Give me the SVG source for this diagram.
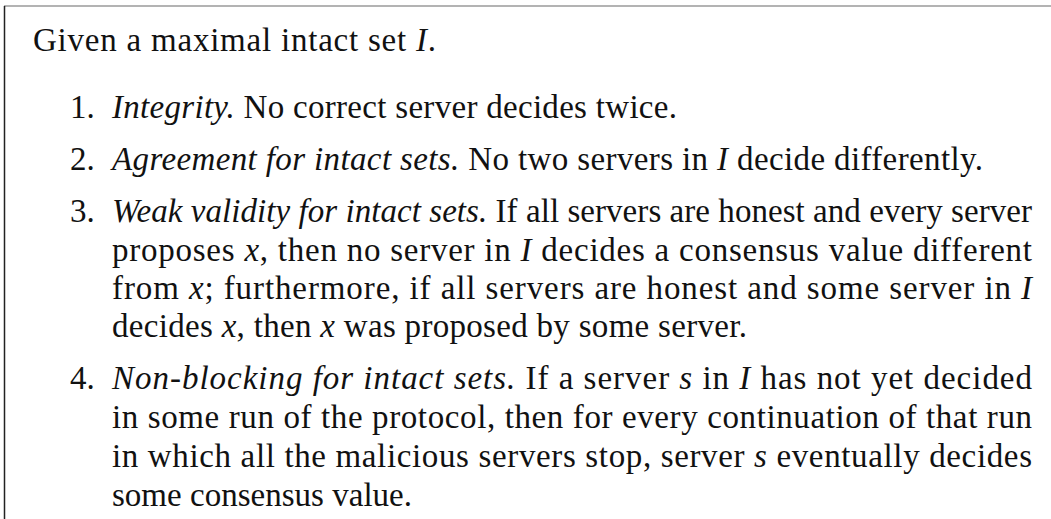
<svg xmlns="http://www.w3.org/2000/svg" width="1051" height="519" viewBox="0 0 1051 519">
<style>
text{font-family:"Liberation Serif","Times New Roman",serif;font-size:33px;fill:#111}
.i{font-style:italic}
</style>
<rect x="0" y="0" width="1051" height="519" fill="#fff"/>
<g id="frame">
<line x1="4" y1="6" x2="1051" y2="6" stroke="#9a9a9a" stroke-width="1.5"/>
<line x1="4.5" y1="6" x2="4.5" y2="519" stroke="#222" stroke-width="1.5"/>
</g>
<g id="intro">
<text x="33" y="51" textLength="403" lengthAdjust="spacing">Given a maximal intact set <tspan class="i">I</tspan>.</text>
</g>
<g id="item1">
<text x="70" y="118">1.</text>
<text x="112" y="118" textLength="565" lengthAdjust="spacing"><tspan class="i">Integrity.</tspan> No correct server decides twice.</text>
</g>
<g id="item2">
<text x="70" y="170">2.</text>
<text x="112" y="170" textLength="871" lengthAdjust="spacing"><tspan class="i">Agreement for intact sets.</tspan> No two servers in <tspan class="i">I</tspan> decide differently.</text>
</g>
<g id="item3">
<text x="70" y="222">3.</text>
<text x="112" y="222" textLength="920" lengthAdjust="spacing"><tspan class="i">Weak validity for intact sets.</tspan> If all servers are honest and every server</text>
<text x="112" y="261" textLength="920" lengthAdjust="spacing">proposes <tspan class="i">x</tspan>, then no server in <tspan class="i">I</tspan> decides a consensus value different</text>
<text x="112" y="299" textLength="920" lengthAdjust="spacing">from <tspan class="i">x</tspan>; furthermore, if all servers are honest and some server in <tspan class="i">I</tspan></text>
<text x="112" y="337" textLength="635" lengthAdjust="spacing">decides <tspan class="i">x</tspan>, then <tspan class="i">x</tspan> was proposed by some server.</text>
</g>
<g id="item4">
<text x="70" y="389">4.</text>
<text x="112" y="389" textLength="920" lengthAdjust="spacing"><tspan class="i">Non-blocking for intact sets.</tspan> If a server <tspan class="i">s</tspan> in <tspan class="i">I</tspan> has not yet decided</text>
<text x="112" y="428" textLength="920" lengthAdjust="spacing">in some run of the protocol, then for every continuation of that run</text>
<text x="112" y="467" textLength="920" lengthAdjust="spacing">in which all the malicious servers stop, server <tspan class="i">s</tspan> eventually decides</text>
<text x="112" y="506" textLength="300" lengthAdjust="spacing">some consensus value.</text>
</g>
</svg>
